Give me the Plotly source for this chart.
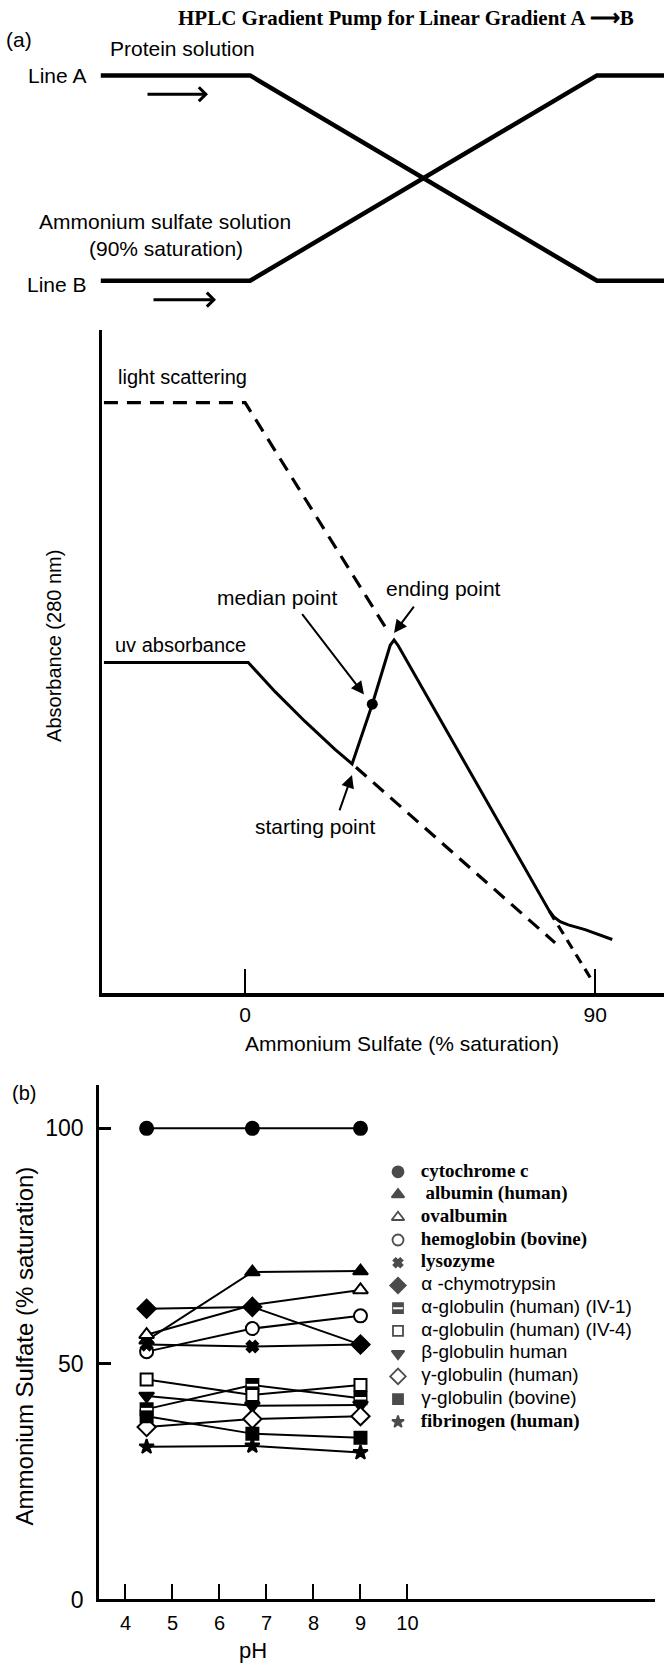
import plotly.graph_objects as go

W, H = 664, 1673

# ---------------- panel (a), top: pump gradient schematic ----------------
grad_time = [-0.43, 0.0, 1.0, 1.2]      # fraction of gradient program
line_a_frac = [1, 1, 0, 0]              # Line A (protein solution)
line_b_frac = [0, 0, 1, 1]              # Line B (ammonium sulfate, 90% sat.)

# ---------------- panel (a), bottom: absorbance traces ----------------
uv_x = [-36.3, 0.8, 7.7, 15.4, 23.1, 27.5, 32.7, 37.3, 38.3, 39.3, 78.2, 79.4, 81.0, 83.1, 87.4, 94.4]
uv_y = [49.9, 49.9, 45.5, 41.0, 36.8, 34.6, 43.6, 52.5, 53.3, 52.5, 12.4, 11.5, 10.8, 10.3, 9.6, 8.1]
ls_x = [-36.3, 0.0, 36.3]
ls_y = [89.1, 89.1, 55.0]
uv_extrap_x = [28.5, 79.7]
uv_extrap_y = [34.1, 7.6]
decline_ext_x = [78.2, 89.0]
decline_ext_y = [12.4, 2.1]
median_x = [32.7]
median_y = [43.6]
abs_ticks = [0, 90]

# ---------------- panel (b): precipitation point vs pH ----------------
ph = [4.45, 6.7, 9.0]
cytochrome_c = [100, 100, 100]
albumin_human = [55.0, 69.5, 69.7]
ovalbumin = [56.2, 62.5, 65.7]
hemoglobin_bovine = [52.6, 57.5, 60.2]
lysozyme = [54.1, 53.7, 54.1]
chymotrypsin = [61.7, 62.1, 54.1]
a_globulin_iv1 = [40.4, 45.5, 42.7]
a_globulin_iv4 = [46.7, 43.4, 45.5]
b_globulin = [43.2, 41.1, 41.3]
g_globulin_human = [36.6, 38.3, 38.9]
g_globulin_bovine = [38.9, 35.2, 34.3]
fibrinogen = [32.4, 32.6, 31.2]
ph_ticks = [4, 5, 6, 7, 8, 9, 10]
sat_ticks = [0, 50, 100]

SERIF = "Liberation Serif, Times New Roman, serif"
SANS = "Liberation Sans, Arial, sans-serif"

def px(x, y):
    return x / W, 1 - y / H

fig = go.Figure()

# --- top schematic
fig.add_trace(go.Scatter(x=grad_time, y=line_a_frac, mode="lines", xaxis="x3", yaxis="y3",
                         line=dict(color="black", width=4.5), showlegend=False, hoverinfo="skip"))
fig.add_trace(go.Scatter(x=grad_time, y=line_b_frac, mode="lines", xaxis="x3", yaxis="y3",
                         line=dict(color="black", width=4.5), showlegend=False, hoverinfo="skip"))

# --- absorbance plot
dash = "14px,9px"
fig.add_trace(go.Scatter(x=ls_x, y=ls_y, mode="lines", xaxis="x2", yaxis="y2",
                         line=dict(color="black", width=3.2, dash=dash), showlegend=False))
fig.add_trace(go.Scatter(x=uv_extrap_x, y=uv_extrap_y, mode="lines", xaxis="x2", yaxis="y2",
                         line=dict(color="black", width=3.2, dash=dash), showlegend=False))
fig.add_trace(go.Scatter(x=decline_ext_x, y=decline_ext_y, mode="lines", xaxis="x2", yaxis="y2",
                         line=dict(color="black", width=3.2, dash="10px,7px"), showlegend=False))
fig.add_trace(go.Scatter(x=uv_x, y=uv_y, mode="lines", xaxis="x2", yaxis="y2",
                         line=dict(color="black", width=3), showlegend=False))
fig.add_trace(go.Scatter(x=median_x, y=median_y, mode="markers", xaxis="x2", yaxis="y2",
                         marker=dict(color="black", size=11), showlegend=False))

# --- panel (b)
series = [
    ("cytochrome c", cytochrome_c, "circle", "black", 13, SERIF, " <b>cytochrome c</b>"),
    ("albumin (human)", albumin_human, "triangle-up", "black", 13, SERIF, "  <b>albumin (human)</b>"),
    ("ovalbumin", ovalbumin, "triangle-up", "white", 13, SERIF, " <b>ovalbumin</b>"),
    ("hemoglobin (bovine)", hemoglobin_bovine, "circle", "white", 13, SERIF, " <b>hemoglobin (bovine)</b>"),
    ("lysozyme", lysozyme, "x", "black", 10, SERIF, " <b>lysozyme</b>"),
    ("α -chymotrypsin", chymotrypsin, "diamond", "black", 14, SANS, " α -chymotrypsin"),
    ("α-globulin (human) (IV-1)", a_globulin_iv1, "square", "black", 12, SANS, " α-globulin (human) (IV-1)"),
    ("α-globulin (human) (IV-4)", a_globulin_iv4, "square", "white", 12, SANS, " α-globulin (human) (IV-4)"),
    ("β-globulin human", b_globulin, "triangle-down", "black", 13, SANS, " β-globulin human"),
    ("γ-globulin (human)", g_globulin_human, "diamond", "white", 14, SANS, " γ-globulin (human)"),
    ("γ-globulin (bovine)", g_globulin_bovine, "square", "black", 12, SANS, " γ-globulin (bovine)"),
    ("fibrinogen (human)", fibrinogen, "star", "black", 11, SERIF, " <b>fibrinogen (human)</b>"),
]

for name, vals, sym, fill, size, fam, lab in series:
    fig.add_trace(go.Scatter(
        x=ph, y=vals, mode="lines", name=name, xaxis="x", yaxis="y",
        line=dict(color="black", width=2), showlegend=False))
for name, vals, sym, fill, size, fam, lab in series:
    fig.add_trace(go.Scatter(
        x=ph, y=vals, mode="markers", name=name, xaxis="x", yaxis="y",
        marker=dict(symbol=sym, color=fill, size=size, line=dict(color="black", width=2)),
        showlegend=False))
# white band of the half-filled square (IV-1)
fig.add_trace(go.Scatter(x=ph, y=a_globulin_iv1, mode="markers", xaxis="x", yaxis="y",
                         marker=dict(symbol="line-ew", size=8, line=dict(color="white", width=2.5)),
                         showlegend=False, hoverinfo="skip"))

# --- key (drawn in its own overlay axes: one row per series)
rows = list(range(len(series)))
fig.add_trace(go.Scatter(
    x=[18] * len(series), y=rows, mode="markers", xaxis="x4", yaxis="y4",
    marker=dict(symbol=[s[2] for s in series], color=[s[3] for s in series],
                size=[s[4] - 2 for s in series], line=dict(color="black", width=1.8)),
    showlegend=False, hoverinfo="skip"))
fig.add_trace(go.Scatter(
    x=[18], y=[rows[6]], mode="markers", xaxis="x4", yaxis="y4",
    marker=dict(symbol="line-ew", size=7, line=dict(color="white", width=2)),
    showlegend=False, hoverinfo="skip"))
fig.add_trace(go.Scatter(
    x=[36] * len(series), y=rows, mode="text", xaxis="x4", yaxis="y4",
    text=[s[6] for s in series], textposition="middle right",
    textfont=dict(family=[s[5] for s in series], size=19, color="black"),
    showlegend=False, hoverinfo="skip"))

ann = []

def text(x, y, t, size=21, family=SANS, angle=0, **kw):
    xx, yy = px(x, y)
    d = dict(x=xx, y=yy, xref="paper", yref="paper", text=t, showarrow=False,
             xanchor="center", yanchor="middle", textangle=angle,
             font=dict(family=family, size=size, color="black"))
    d.update(kw)
    ann.append(d)

def arrow(x0, y0, x1, y1, head=2, width=2, size=1.2):
    xx, yy = px(x1, y1)
    ann.append(dict(x=xx, y=yy, xref="paper", yref="paper", text="", showarrow=True,
                    ax=x0 - x1, ay=y0 - y1, arrowhead=head, arrowwidth=width,
                    arrowsize=size, arrowcolor="black"))

# top panel text
text(406, 18, "<b>HPLC Gradient Pump for Linear Gradient A ⟶B</b>", size=21, family=SERIF)
text(19, 40, "(a)")
text(182, 49, "Protein solution")
text(57, 76, "Line A")
text(165, 223, "Ammonium sulfate solution")
text(166, 250, "(90% saturation)")
text(57, 287, "Line B")
arrow(146, 95, 208, 95, head=4, width=3, size=0.9)
arrow(152, 302, 216, 302, head=4, width=3, size=0.9)

# middle panel text
text(182, 380, "light scattering", size=20)
text(180, 650, "uv absorbance", size=20)
text(277, 602, "median point")
text(443, 593, "ending point")
text(315, 833, "starting point")
text(54, 651, "Absorbance (280 nm)", size=20, angle=-90)
text(402, 1052, "Ammonium Sulfate (% saturation)", size=21)
arrow(301, 618, 364, 700, head=2, width=2, size=1.3)
arrow(415, 610, 394, 638, head=2, width=2, size=1.3)
arrow(339, 818, 352, 781, head=2, width=2, size=1.3)

# bottom panel text
text(24, 1102, "(b)", size=20)
text(24, 1357, "Ammonium Sulfate (% saturation)", size=24, angle=-90)
text(253, 1663, "pH", size=22)

fig.update_layout(
    width=W, height=H, margin=dict(l=0, r=0, t=0, b=0),
    paper_bgcolor="white", plot_bgcolor="white", showlegend=False,
    annotations=ann,
    xaxis=dict(domain=[99 / W, 655 / W], range=[3.437, 15.266], showline=True, linecolor="black",
               linewidth=2.5, showgrid=False, zeroline=False, tickmode="array", tickvals=ph_ticks,
               ticks="inside", ticklen=16, tickwidth=1.5, tickcolor="black",
               tickfont=dict(family=SANS, size=20, color="black"), ticklabelstandoff=4),
    yaxis=dict(domain=[1 - 1612 / H, 1 - 1093 / H], range=[0, 109.3], showline=True,
               linecolor="black", linewidth=2.5, showgrid=False, zeroline=False,
               tickmode="array", tickvals=sat_ticks, ticks="inside", ticklen=12, tickwidth=2.5,
               tickcolor="black", tickfont=dict(family=SANS, size=23, color="black"),
               ticklabelstandoff=8),
    xaxis2=dict(domain=[102 / W, 1], range=[-36.8, 107.7], anchor="y2", showline=True,
                linecolor="black", linewidth=3.5, showgrid=False, zeroline=False,
                tickmode="array", tickvals=abs_ticks, ticks="inside", ticklen=24, tickwidth=2,
                tickcolor="black", tickfont=dict(family=SANS, size=21, color="black")),
    yaxis2=dict(domain=[1 - 1001 / H, 1 - 333 / H], range=[0, 100], anchor="x2", showline=True,
                linecolor="black", linewidth=2.5, showgrid=False, zeroline=False,
                showticklabels=False, ticks=""),
    xaxis3=dict(domain=[0, 1], range=[-0.7205, 1.1931], anchor="y3", visible=False),
    yaxis3=dict(domain=[1 - 320 / H, 1], range=[-0.1787, 1.3671], anchor="x3", visible=False),
    xaxis4=dict(domain=[380 / W, 1], range=[0, 284], anchor="y4", visible=False),
    yaxis4=dict(domain=[1 - 1444.5 / H, 1 - 1169.5 / H], range=[11.5, -0.5], anchor="x4",
                visible=False),
)

fig.write_html("out.html")
